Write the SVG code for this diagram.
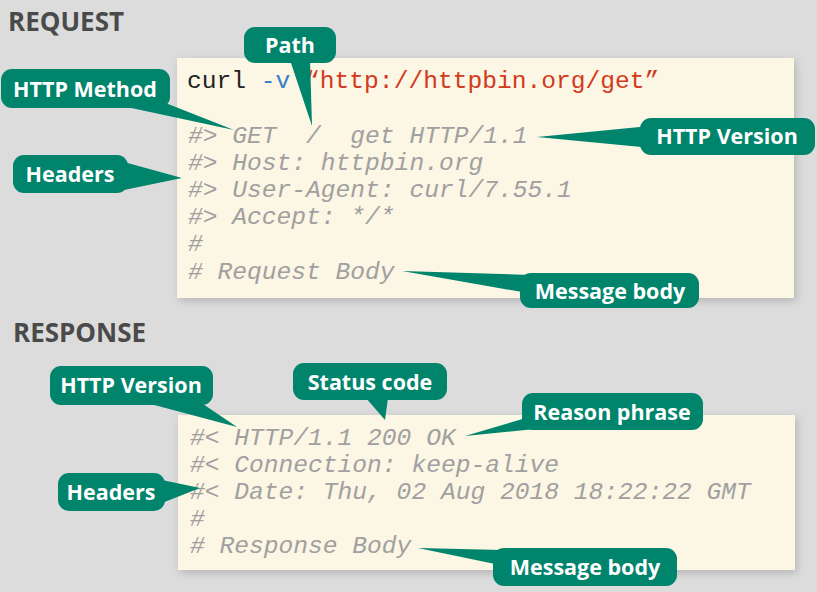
<svg xmlns="http://www.w3.org/2000/svg" width="817" height="592" viewBox="0 0 817 592">
<style>
.title{font-family:"Open Sans","Noto Sans",sans-serif;font-weight:700;font-size:26px;fill:#4a4a4a}
.panel{fill:#fcf6e4}
.code{font-family:"Liberation Mono","Courier New",monospace;font-size:24.6px;white-space:pre}
.cmt{fill:#a0a0a0;font-style:italic}
.cb{fill:#00846c}
.ct{font-family:"Open Sans","Noto Sans",sans-serif;font-weight:700;font-size:21.5px;fill:#ffffff;text-anchor:middle}
</style>
<defs>
<filter id="sh" x="-5%" y="-10%" width="110%" height="125%">
<feDropShadow dx="2" dy="3" stdDeviation="4" flood-color="#000" flood-opacity="0.18"/>
</filter>
</defs>
<rect x="0" y="0" width="817" height="592" fill="#dcdcdc"/>
<text class="title" x="8" y="31">REQUEST</text>
<text class="title" x="13" y="342">RESPONSE</text>
<g id="request-panel">
<rect class="panel" x="177" y="58" width="617" height="240" filter="url(#sh)"/>
<text class="code" x="187" y="88" xml:space="preserve"><tspan fill="#222222">curl </tspan><tspan fill="#3a7fc8">-v </tspan><tspan fill="#d23a20">“http://httpbin.org/get”</tspan></text>
<text class="code cmt" x="188" y="143" xml:space="preserve">#&gt; GET  /  get HTTP/1.1</text>
<text class="code cmt" x="188" y="170" xml:space="preserve">#&gt; Host: httpbin.org</text>
<text class="code cmt" x="188" y="197" xml:space="preserve">#&gt; User-Agent: curl/7.55.1</text>
<text class="code cmt" x="188" y="224" xml:space="preserve">#&gt; Accept: */*</text>
<text class="code cmt" x="188" y="251" xml:space="preserve">#</text>
<text class="code cmt" x="188" y="279" xml:space="preserve"># Request Body</text>
</g>
<g id="response-panel">
<rect class="panel" x="178" y="415" width="617" height="155" filter="url(#sh)"/>
<text class="code cmt" x="190" y="445" xml:space="preserve">#&lt; HTTP/1.1 200 OK</text>
<text class="code cmt" x="190" y="472" xml:space="preserve">#&lt; Connection: keep-alive</text>
<text class="code cmt" x="190" y="499" xml:space="preserve">#&lt; Date: Thu, 02 Aug 2018 18:22:22 GMT</text>
<text class="code cmt" x="190" y="526" xml:space="preserve">#</text>
<text class="code cmt" x="190" y="553" xml:space="preserve"># Response Body</text>
</g>
<g id="connectors">
<polygon class="cb" points="290,60 310,60 312,126"/>
<polygon class="cb" points="122,106 168,104 234,130"/>
<polygon class="cb" points="124,162 124,190 182,178"/>
<polygon class="cb" points="537,137 650,126 652,148"/>
<polygon class="cb" points="402,271 532,275 522,292"/>
<polygon class="cb" points="143,402 200,402 237,427"/>
<polygon class="cb" points="366,398 388,398 385,420"/>
<polygon class="cb" points="465,436 526,418 545,428"/>
<polygon class="cb" points="162,480 162,503 200,488"/>
<polygon class="cb" points="418,548 502,550 495,564"/>
</g>
<g id="c-path"><rect class="cb" x="244" y="27" width="92" height="36" rx="11"/><text class="ct" x="290" y="53">Path</text></g>
<g id="c-method"><rect class="cb" x="1" y="69" width="169" height="39" rx="11"/><text class="ct" x="85" y="97">HTTP Method</text></g>
<g id="c-req-headers"><rect class="cb" x="13" y="155" width="115" height="38" rx="11"/><text class="ct" x="70" y="182">Headers</text></g>
<g id="c-req-version"><rect class="cb" x="640" y="118" width="175" height="37" rx="11"/><text class="ct" x="727" y="144">HTTP Version</text></g>
<g id="c-req-body"><rect class="cb" x="520" y="273" width="179" height="35" rx="11"/><text class="ct" x="610" y="299">Message body</text></g>
<g id="c-res-version"><rect class="cb" x="50" y="366" width="163" height="39" rx="11"/><text class="ct" x="131" y="393">HTTP Version</text></g>
<g id="c-status"><rect class="cb" x="293" y="363" width="154" height="37" rx="11"/><text class="ct" x="370" y="390">Status code</text></g>
<g id="c-reason"><rect class="cb" x="522" y="393" width="181" height="37" rx="11"/><text class="ct" x="612" y="420">Reason phrase</text></g>
<g id="c-res-headers"><rect class="cb" x="58" y="473" width="107" height="38" rx="11"/><text class="ct" x="111" y="500">Headers</text></g>
<g id="c-res-body"><rect class="cb" x="493" y="548" width="184" height="38" rx="11"/><text class="ct" x="585" y="575">Message body</text></g>
</svg>
